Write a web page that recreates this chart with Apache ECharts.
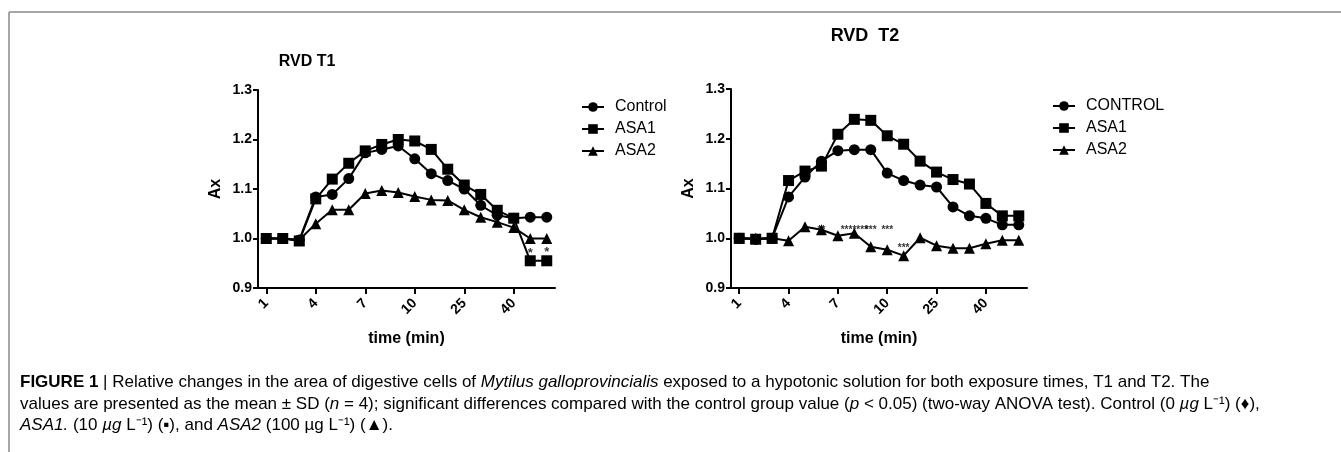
<!DOCTYPE html>
<html>
<head>
<meta charset="utf-8">
<script src="https://cdn.jsdelivr.net/npm/echarts@6/dist/echarts.min.js"></script>
<style>
html,body{margin:0;padding:0;background:#fff;}
#chart{width:1341px;height:452px;}
</style>
</head>
<body>
<div id="chart"></div>
<script>
// ---- data ----
var categories = ['1','2','3','4','5','6','7','8','9','10','15','20','25','30','35','40','45','50'];
var yTicks = [0.9, 1.0, 1.1, 1.2, 1.3];

var t1Control = [1.000,1.000,0.997,1.084,1.089,1.121,1.173,1.180,1.187,1.161,1.131,1.117,1.100,1.067,1.047,1.041,1.043,1.043];
var t1ASA1    = [1.000,1.000,0.995,1.080,1.120,1.152,1.177,1.190,1.200,1.197,1.180,1.140,1.108,1.089,1.057,1.041,0.955,0.955];
var t1ASA2    = [1.000,1.000,0.997,1.030,1.058,1.058,1.091,1.097,1.093,1.085,1.078,1.077,1.058,1.043,1.033,1.022,1.000,1.000];

var t2Control = [1.000,0.998,1.000,1.083,1.123,1.155,1.176,1.178,1.178,1.131,1.116,1.107,1.103,1.063,1.045,1.040,1.027,1.027];
var t2ASA1    = [1.000,0.998,1.000,1.116,1.135,1.145,1.209,1.239,1.237,1.206,1.189,1.155,1.133,1.118,1.109,1.070,1.045,1.045];
var t2ASA2    = [1.000,1.000,1.000,0.995,1.023,1.017,1.005,1.010,0.983,0.977,0.965,1.001,0.985,0.980,0.980,0.989,0.996,0.996];

var t1Names = ['Control','ASA1','ASA2'];
var t2Names = ['CONTROL','ASA1','ASA2'];

var t1SigCats = ['45','50'];
var t1SigVals = [0.970, 0.972];
var t1SigText = ['*','*'];

var t2SigCats = ['6','8','9','10','15'];
var t2SigVals = [1.016, 1.016, 1.016, 1.016, 0.980];
var t2SigText = ['**','*******','***','***','***'];

var titles = ['RVD T1', 'RVD  T2'];
var xName = 'time (min)';
var yName = 'Ax';

// ---- chart ----
var FONT = '"Liberation Sans", Arial, Helvetica, sans-serif';
var chart = echarts.init(document.getElementById('chart'), null, {renderer:'canvas'});

function xAxisCfg(gi){
  return {
    type:'category', gridIndex:gi, data:categories, boundaryGap:true,
    name:xName, nameLocation:'middle', nameGap:43,
    nameTextStyle:{color:'#000', fontWeight:'bold', fontSize:16, fontFamily:FONT},
    axisLine:{lineStyle:{color:'#000', width:2}},
    axisTick:{show:true, interval:2, alignWithLabel:true, length:6, lineStyle:{color:'#000', width:2}},
    axisLabel:{interval:2, rotate:45, margin:13, color:'#000', fontWeight:'bold', fontSize:14, fontFamily:FONT},
    splitLine:{show:false}
  };
}
function yAxisCfg(gi){
  return {
    type:'value', gridIndex:gi, min:yTicks[0], max:yTicks[yTicks.length-1], interval:0.1,
    name:yName, nameLocation:'middle', nameGap:34, nameRotate:90,
    nameTextStyle:{color:'#000', fontWeight:'bold', fontSize:16, fontFamily:FONT},
    axisLine:{show:true, lineStyle:{color:'#000', width:2}},
    axisTick:{show:true, length:5, lineStyle:{color:'#000', width:2}},
    axisLabel:{color:'#000', fontWeight:'bold', fontSize:14, fontFamily:FONT, margin:6,
      formatter:function(v){return v.toFixed(1);}},
    splitLine:{show:false}
  };
}
function lineSeries(name, data, symbol, size, gi){
  return {
    type:'line', name:name, data:data, xAxisIndex:gi, yAxisIndex:gi,
    symbol:symbol, symbolSize:size, showAllSymbol:true,
    lineStyle:{color:'#000', width:2}, itemStyle:{color:'#000'},
    emphasis:{disabled:true}, animation:false
  };
}
function sigSeries(cats, vals, texts, offsets, fs, gi){
  return {
    type:'scatter', xAxisIndex:gi, yAxisIndex:gi, symbolSize:1, silent:true, z:10,
    itemStyle:{color:'rgba(0,0,0,0)'}, animation:false,
    labelLayout:{hideOverlap:false},
    data: cats.map(function(c,i){
      return {value:[c, vals[i]], label:{show:true, formatter:texts[i], position:'inside',
        offset:offsets[i], color:'#000', fontSize:fs, fontWeight:'bold', fontFamily:FONT}};
    })
  };
}

var FS = 17;
var rich = {
  b:{fontSize:FS, fontFamily:FONT, fontWeight:'bold', color:'#000'},
  i:{fontSize:FS, fontFamily:FONT, fontStyle:'italic', color:'#000'}
};
var capLines = [
  '{b|FIGURE 1} | Relative changes in the area of digestive cells of {i|Mytilus galloprovincialis} exposed to a hypotonic solution for both exposure times, T1 and T2. The',
  'values are presented as the mean ± SD ({i|n} = 4); significant differences compared with the control group value ({i|p} < 0.05) (two-way ANOVA test). Control (0 {i|µg} L⁻¹) (♦),',
  '{i|ASA1.} (10 {i|µg} L⁻¹) (▪), and {i|ASA2} (100 µg L⁻¹) (▲).'
];
var capY = [382, 404, 425];

var graphics = [
  {type:'line', shape:{x1:9, y1:12, x2:1341, y2:12}, style:{stroke:'#8a8a8a', lineWidth:1.5}},
  {type:'line', shape:{x1:9, y1:12, x2:9, y2:452}, style:{stroke:'#8a8a8a', lineWidth:1.5}},
  {type:'text', x:307, y:62, style:{text:titles[0], fontSize:16, fontWeight:'bold', fontFamily:FONT, fill:'#000', align:'center', verticalAlign:'middle'}},
  {type:'text', x:865, y:36, style:{text:titles[1], fontSize:18, fontWeight:'bold', fontFamily:FONT, fill:'#000', align:'center', verticalAlign:'middle'}}
];
capLines.forEach(function(t, i){
  graphics.push({type:'text', x:20, y:capY[i], style:{text:t, rich:rich, fontSize:FS, fontFamily:FONT, fill:'#000', align:'left', verticalAlign:'middle'}});
});

var option = {
  backgroundColor:'#fff',
  animation:false,
  grid:[
    {left:258, top:90, width:297, height:198},
    {left:731, top:89, width:296, height:199}
  ],
  xAxis:[xAxisCfg(0), xAxisCfg(1)],
  yAxis:[yAxisCfg(0), yAxisCfg(1)],
  legend:[
    {data:t1Names, orient:'vertical', left:576, top:94, itemWidth:22, itemHeight:12, itemGap:6,
      selectedMode:false, textStyle:{color:'#000', fontSize:16, fontFamily:FONT, padding:[0,0,0,6]}},
    {data:t2Names, orient:'vertical', left:1047, top:93, itemWidth:22, itemHeight:12, itemGap:6,
      selectedMode:false, textStyle:{color:'#000', fontSize:16, fontFamily:FONT, padding:[0,0,0,6]}}
  ],
  graphic:graphics,
  series:[
    lineSeries(t1Names[0], t1Control, 'circle', 11, 0),
    lineSeries(t1Names[1], t1ASA1, 'rect', 11, 0),
    lineSeries(t1Names[2], t1ASA2, 'triangle', 11, 0),
    lineSeries(t2Names[0], t2Control, 'circle', 11, 1),
    lineSeries(t2Names[1], t2ASA1, 'rect', 11, 1),
    lineSeries(t2Names[2], t2ASA2, 'triangle', 11, 1),
    sigSeries(t1SigCats, t1SigVals, t1SigText, [[0,3],[0,3]], 13, 0),
    sigSeries(t2SigCats, t2SigVals, t2SigText, [[8,3],[0,3],[6,3],[9,3],[0,3]], 10, 1)
  ]
};
chart.setOption(option);
</script>
</body>
</html>
